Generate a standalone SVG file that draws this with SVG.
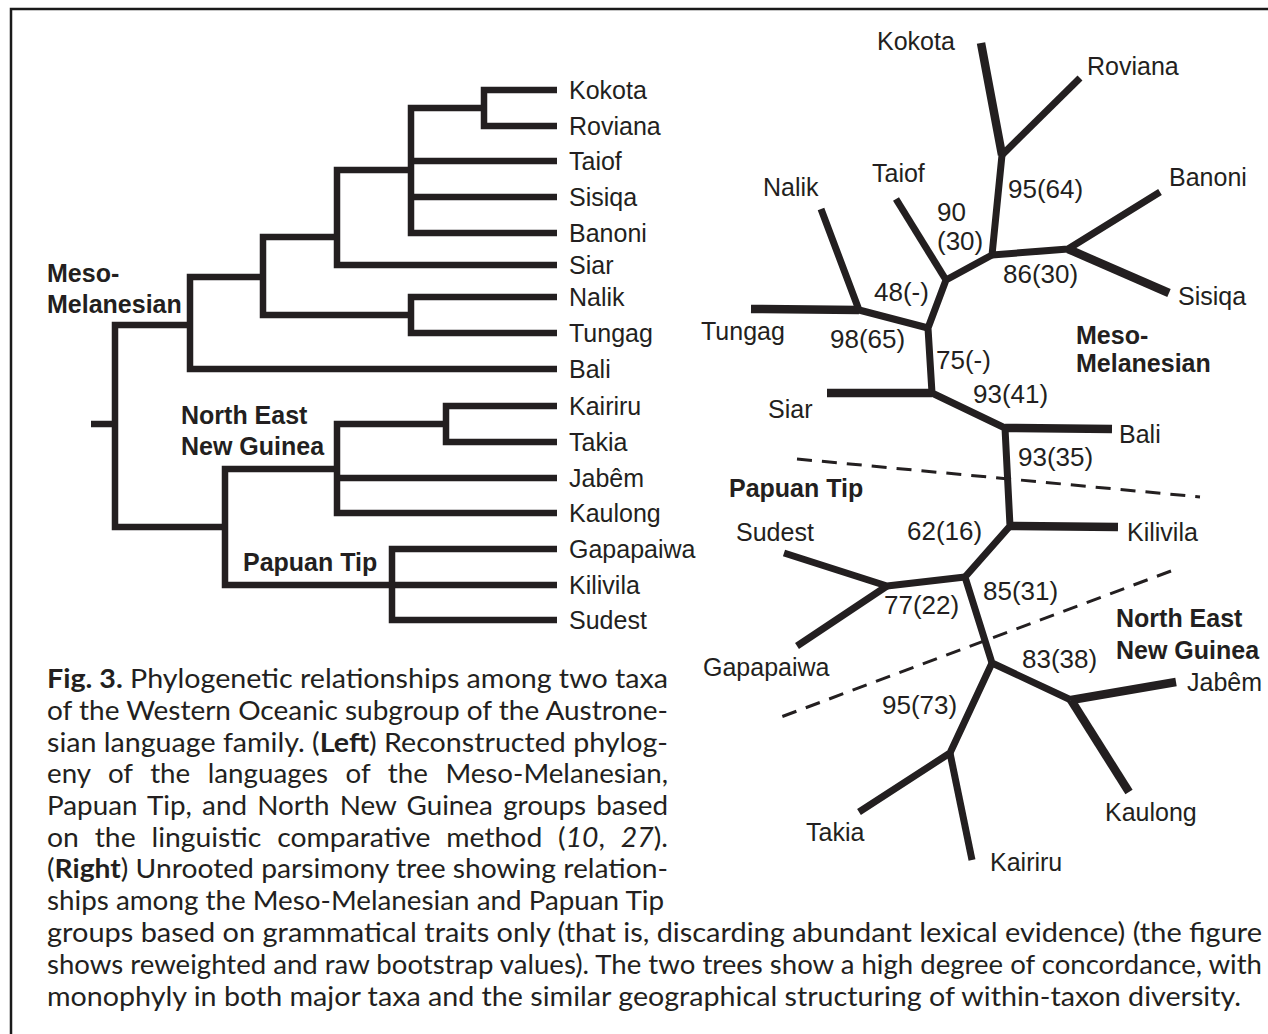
<svg xmlns="http://www.w3.org/2000/svg" width="1268" height="1034" viewBox="0 0 1268 1034">
<style>
.bg{fill:#ffffff}
.frame{fill:none;stroke:#1a1a1a;stroke-width:2.5}
.br{fill:none;stroke:#231f20;stroke-width:6.5;stroke-linejoin:miter;stroke-linecap:butt}
.ur{fill:none;stroke:#231f20;stroke-width:7;stroke-linejoin:round;stroke-linecap:butt}
.thick{stroke-width:8.5}
.dash{fill:none;stroke:#231f20;stroke-width:3;stroke-dasharray:15 10}
.tip{font-family:"Liberation Sans",Arial,sans-serif;font-size:25px;fill:#231f20}
.bs{font-family:"Liberation Sans",Arial,sans-serif;font-size:26px;fill:#231f20}
.grp{font-family:"Liberation Sans",Arial,sans-serif;font-size:25px;font-weight:bold;fill:#231f20}
.cap{font-family:Lato,"Open Sans",sans-serif;font-size:26.5px;fill:#231f20}
.b{font-weight:bold}
.i{font-style:italic}
</style>
<rect class="bg" x="0" y="0" width="1268" height="1034"/>
<path class="frame" d="M11,1034 V9 H1268"/>

<!-- Left tree connectors -->
<g id="left-connectors">
<path class="br" d="M557,90 H484 V126 H557"/>
<path class="br" d="M484,108 H411 V233 H557"/>
<path class="br" d="M411,161 H557"/>
<path class="br" d="M411,197 H557"/>
<path class="br" d="M411,170 H337 V265 H557"/>
<path class="br" d="M337,237 H263 V315 H411"/>
<path class="br" d="M557,297 H411 V333 H557"/>
<path class="br" d="M263,277 H190 V369 H557"/>
<path class="br" d="M190,325 H115 V527 H225"/>
<path class="br" d="M91,424 H115"/>
<path class="br" d="M337,469 H225 V585 H557"/>
<path class="br" d="M557,549 H392 V620 H557"/>
<path class="br" d="M446,424 H337 V513 H557"/>
<path class="br" d="M337,478 H557"/>
<path class="br" d="M557,406 H446 V442 H557"/>
</g>

<!-- Left tree labels -->
<g id="left-tips">
<text id="l-kokota" class="tip" x="569" y="98.5">Kokota</text>
<text id="l-roviana" class="tip" x="569" y="134.5">Roviana</text>
<text id="l-taiof" class="tip" x="569" y="169.5">Taiof</text>
<text id="l-sisiqa" class="tip" x="569" y="205.5">Sisiqa</text>
<text id="l-banoni" class="tip" x="569" y="241.5">Banoni</text>
<text id="l-siar" class="tip" x="569" y="273.5">Siar</text>
<text id="l-nalik" class="tip" x="569" y="305.5">Nalik</text>
<text id="l-tungag" class="tip" x="569" y="341.5">Tungag</text>
<text id="l-bali" class="tip" x="569" y="377.5">Bali</text>
<text id="l-kairiru" class="tip" x="569" y="414.5">Kairiru</text>
<text id="l-takia" class="tip" x="569" y="450.5">Takia</text>
<text id="l-jabem" class="tip" x="569" y="486.5">Jabêm</text>
<text id="l-kaulong" class="tip" x="569" y="521.5">Kaulong</text>
<text id="l-gapapaiwa" class="tip" x="569" y="557.5">Gapapaiwa</text>
<text id="l-kilivila" class="tip" x="569" y="593.5">Kilivila</text>
<text id="l-sudest" class="tip" x="569" y="628.5">Sudest</text>
</g>
<g id="left-groups">
<text class="grp" x="47" y="282">Meso-</text>
<text class="grp" x="47" y="313">Melanesian</text>
<text class="grp" x="181" y="424">North East</text>
<text class="grp" x="181" y="455">New Guinea</text>
<text class="grp" x="243" y="571">Papuan Tip</text>
</g>

<!-- Right tree connectors -->
<g id="right-connectors">
<path class="ur" d="M1002,155 L992,255 L946,280 L928,328 L932,393 L1005,428 L1010,526 L965,577 L992,663 L1071,700"/>
<path class="ur thick" d="M981,43 L1002,155"/>
<path class="ur" d="M1080,78 L1002,155"/>
<path class="ur" d="M992,255 L1068,249 L1160,192"/>
<path class="ur thick" d="M1068,249 L1169,293"/>
<path class="ur" d="M896,199 L946,280"/>
<path class="ur" d="M928,328 L859,310 L821,209"/>
<path class="ur thick" d="M751,309 L859,310"/>
<path class="ur thick" d="M827,393 L932,393"/>
<path class="ur thick" d="M1005,428 L1112,429"/>
<path class="ur thick" d="M1010,526 L1118,527"/>
<path class="ur" d="M965,577 L887,586 L784,553"/>
<path class="ur" d="M887,586 L797,646"/>
<path class="ur thick" d="M1071,700 L1176,682"/>
<path class="ur thick" d="M1071,700 L1129,792"/>
<path class="ur" d="M992,663 L950,753 L859,812"/>
<path class="ur" d="M950,753 L972,860"/>
<path class="dash" d="M797,459 L1200,497"/>
<path class="dash" d="M1171,571 L773,720"/>
</g>

<!-- Right tree labels -->
<g id="right-tips">
<text id="r-kokota" class="tip" x="877" y="50">Kokota</text>
<text id="r-roviana" class="tip" x="1087" y="75">Roviana</text>
<text id="r-banoni" class="tip" x="1169" y="186">Banoni</text>
<text id="r-sisiqa" class="tip" x="1178" y="305">Sisiqa</text>
<text id="r-taiof" class="tip" x="872" y="182">Taiof</text>
<text id="r-nalik" class="tip" x="763" y="196">Nalik</text>
<text id="r-tungag" class="tip" x="701" y="340">Tungag</text>
<text id="r-siar" class="tip" x="768" y="418">Siar</text>
<text id="r-bali" class="tip" x="1119" y="443">Bali</text>
<text id="r-kilivila" class="tip" x="1127" y="541">Kilivila</text>
<text id="r-sudest" class="tip" x="736" y="541">Sudest</text>
<text id="r-gapapaiwa" class="tip" x="703" y="676">Gapapaiwa</text>
<text id="r-jabem" class="tip" x="1187" y="691">Jabêm</text>
<text id="r-kaulong" class="tip" x="1105" y="821">Kaulong</text>
<text id="r-takia" class="tip" x="806" y="841">Takia</text>
<text id="r-kairiru" class="tip" x="990" y="871">Kairiru</text>
</g>
<g id="right-bootstrap">
<text class="bs" x="1008" y="198">95(64)</text>
<text class="bs" x="937" y="221">90</text>
<text class="bs" x="937" y="250">(30)</text>
<text class="bs" x="1003" y="283">86(30)</text>
<text class="bs" x="874" y="301">48(-)</text>
<text class="bs" x="830" y="348">98(65)</text>
<text class="bs" x="936" y="369">75(-)</text>
<text class="bs" x="973" y="403">93(41)</text>
<text class="bs" x="1018" y="466">93(35)</text>
<text class="bs" x="907" y="540">62(16)</text>
<text class="bs" x="983" y="600">85(31)</text>
<text class="bs" x="884" y="614">77(22)</text>
<text class="bs" x="1022" y="668">83(38)</text>
<text class="bs" x="882" y="714">95(73)</text>
</g>
<g id="right-groups">
<text class="grp" x="1076" y="344">Meso-</text>
<text class="grp" x="1076" y="372">Melanesian</text>
<text class="grp" x="729" y="497">Papuan Tip</text>
<text class="grp" x="1116" y="627">North East</text>
<text class="grp" x="1116" y="659">New Guinea</text>
</g>

<!-- Caption -->
<g id="caption">
<text class="cap" x="47" y="688" textLength="621" lengthAdjust="spacingAndGlyphs"><tspan class="b">Fig. 3.</tspan> Phylogenetic relationships among two taxa</text>
<text class="cap" x="47" y="720" textLength="621" lengthAdjust="spacingAndGlyphs">of the Western Oceanic subgroup of the Austrone-</text>
<text class="cap" x="47" y="752" textLength="621" lengthAdjust="spacingAndGlyphs">sian language family. (<tspan class="b">Left</tspan>) Reconstructed phylog-</text>
<text class="cap" x="47" y="783" textLength="621" lengthAdjust="spacingAndGlyphs" word-spacing="10">eny of the languages of the Meso-Melanesian,</text>
<text class="cap" x="47" y="815" textLength="621" lengthAdjust="spacingAndGlyphs" word-spacing="3">Papuan Tip, and North New Guinea groups based</text>
<text class="cap" x="47" y="847" textLength="621" lengthAdjust="spacingAndGlyphs" word-spacing="8">on the linguistic comparative method (<tspan class="i">10</tspan>, <tspan class="i">27</tspan>).</text>
<text class="cap" x="47" y="878" textLength="621" lengthAdjust="spacingAndGlyphs">(<tspan class="b">Right</tspan>) Unrooted parsimony tree showing relation-</text>
<text class="cap" x="47" y="910" textLength="617" lengthAdjust="spacingAndGlyphs">ships among the Meso-Melanesian and Papuan Tip</text>
<text class="cap" x="47" y="942" textLength="1215" lengthAdjust="spacingAndGlyphs">groups based on grammatical traits only (that is, discarding abundant lexical evidence) (the figure</text>
<text class="cap" x="47" y="974" textLength="1215" lengthAdjust="spacingAndGlyphs">shows reweighted and raw bootstrap values). The two trees show a high degree of concordance, with</text>
<text class="cap" x="47" y="1006" textLength="1194" lengthAdjust="spacingAndGlyphs">monophyly in both major taxa and the similar geographical structuring of within-taxon diversity.</text>
</g>
</svg>
